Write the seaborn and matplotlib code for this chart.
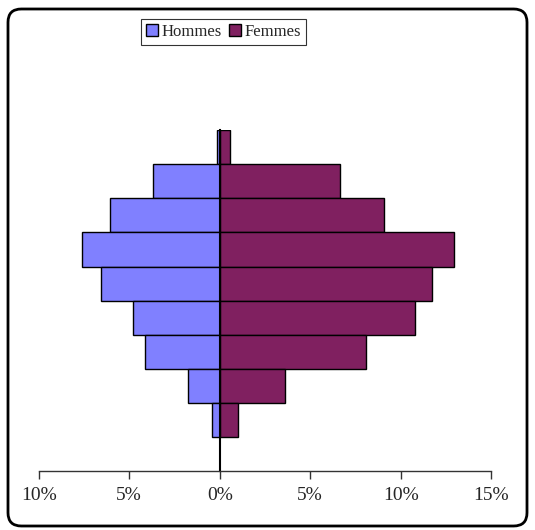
import matplotlib
matplotlib.use("Agg")
import matplotlib.pyplot as plt
from matplotlib.patches import FancyBboxPatch
import pandas as pd
import seaborn as sns

# tranches d'age, du haut vers le bas
tranches = ["80+", "70-79", "60-69", "50-59", "40-49", "30-39", "20-29", "10-19", "0-9"]
hommes = [0.17, 3.71, 6.04, 7.62, 6.58, 4.78, 4.14, 1.75, 0.40]
femmes = [0.55, 6.64, 9.05, 12.95, 11.72, 10.80, 8.09, 3.63, 1.02]
xticks = [-10, -5, 0, 5, 10, 15]
xlabels = ["10%", "5%", "0%", "5%", "10%", "15%"]

df = pd.DataFrame({
    "tranche": tranches * 2,
    "sexe": ["Hommes"] * len(tranches) + ["Femmes"] * len(tranches),
    "valeur": [-v for v in hommes] + femmes,
})

sns.set_style("white")
plt.rcParams["font.family"] = ["Liberation Serif", "DejaVu Serif"]

fig = plt.figure(figsize=(5.35, 5.30), dpi=100)
ax = fig.add_axes([0.0722, 0.1104, 0.8461, 0.6443])

sns.barplot(data=df, x="valeur", y="tranche", hue="sexe", order=tranches,
            hue_order=["Hommes", "Femmes"], palette=["#8080FF", "#802060"],
            saturation=1, orient="h", dodge=False, width=1.0, errorbar=None,
            edgecolor="black", linewidth=1.0, ax=ax)

ax.set_xlim(-10, 15)
ax.set_ylim(9.5, -0.5)
ax.set_xticks(xticks)
ax.set_xticklabels(xlabels, fontsize=14)
ax.set_yticks([])
ax.set_xlabel("")
ax.set_ylabel("")
ax.tick_params(axis="x", direction="out", length=6, width=1, color="#333333",
               bottom=True, pad=5)
ax.spines["top"].set_visible(False)
ax.spines["right"].set_visible(False)
ax.spines["left"].set_position(("data", 0))
ax.spines["left"].set_linewidth(1.5)
ax.spines["left"].set_color("black")
ax.spines["bottom"].set_color("#333333")
ax.spines["bottom"].set_linewidth(1.0)

handles, labels = ax.get_legend_handles_labels()
ax.get_legend().remove()
leg = fig.legend(handles, labels, loc="center", bbox_to_anchor=(0.418, 0.94),
                 ncol=2, fontsize=12, frameon=True, fancybox=False,
                 handlelength=0.7, handleheight=0.7, handletextpad=0.25,
                 columnspacing=0.4, borderpad=0.3, borderaxespad=0)
leg.get_frame().set_edgecolor("black")
leg.get_frame().set_linewidth(0.8)

# cadre arrondi autour du graphique
cadre = FancyBboxPatch((8 / 535, 4 / 530), 519 / 535, 517 / 530,
                       boxstyle="round,pad=0,rounding_size=0.025",
                       transform=fig.transFigure, fill=False,
                       edgecolor="black", linewidth=2)
fig.patches.append(cadre)

fig.savefig("out.png", dpi=100)
